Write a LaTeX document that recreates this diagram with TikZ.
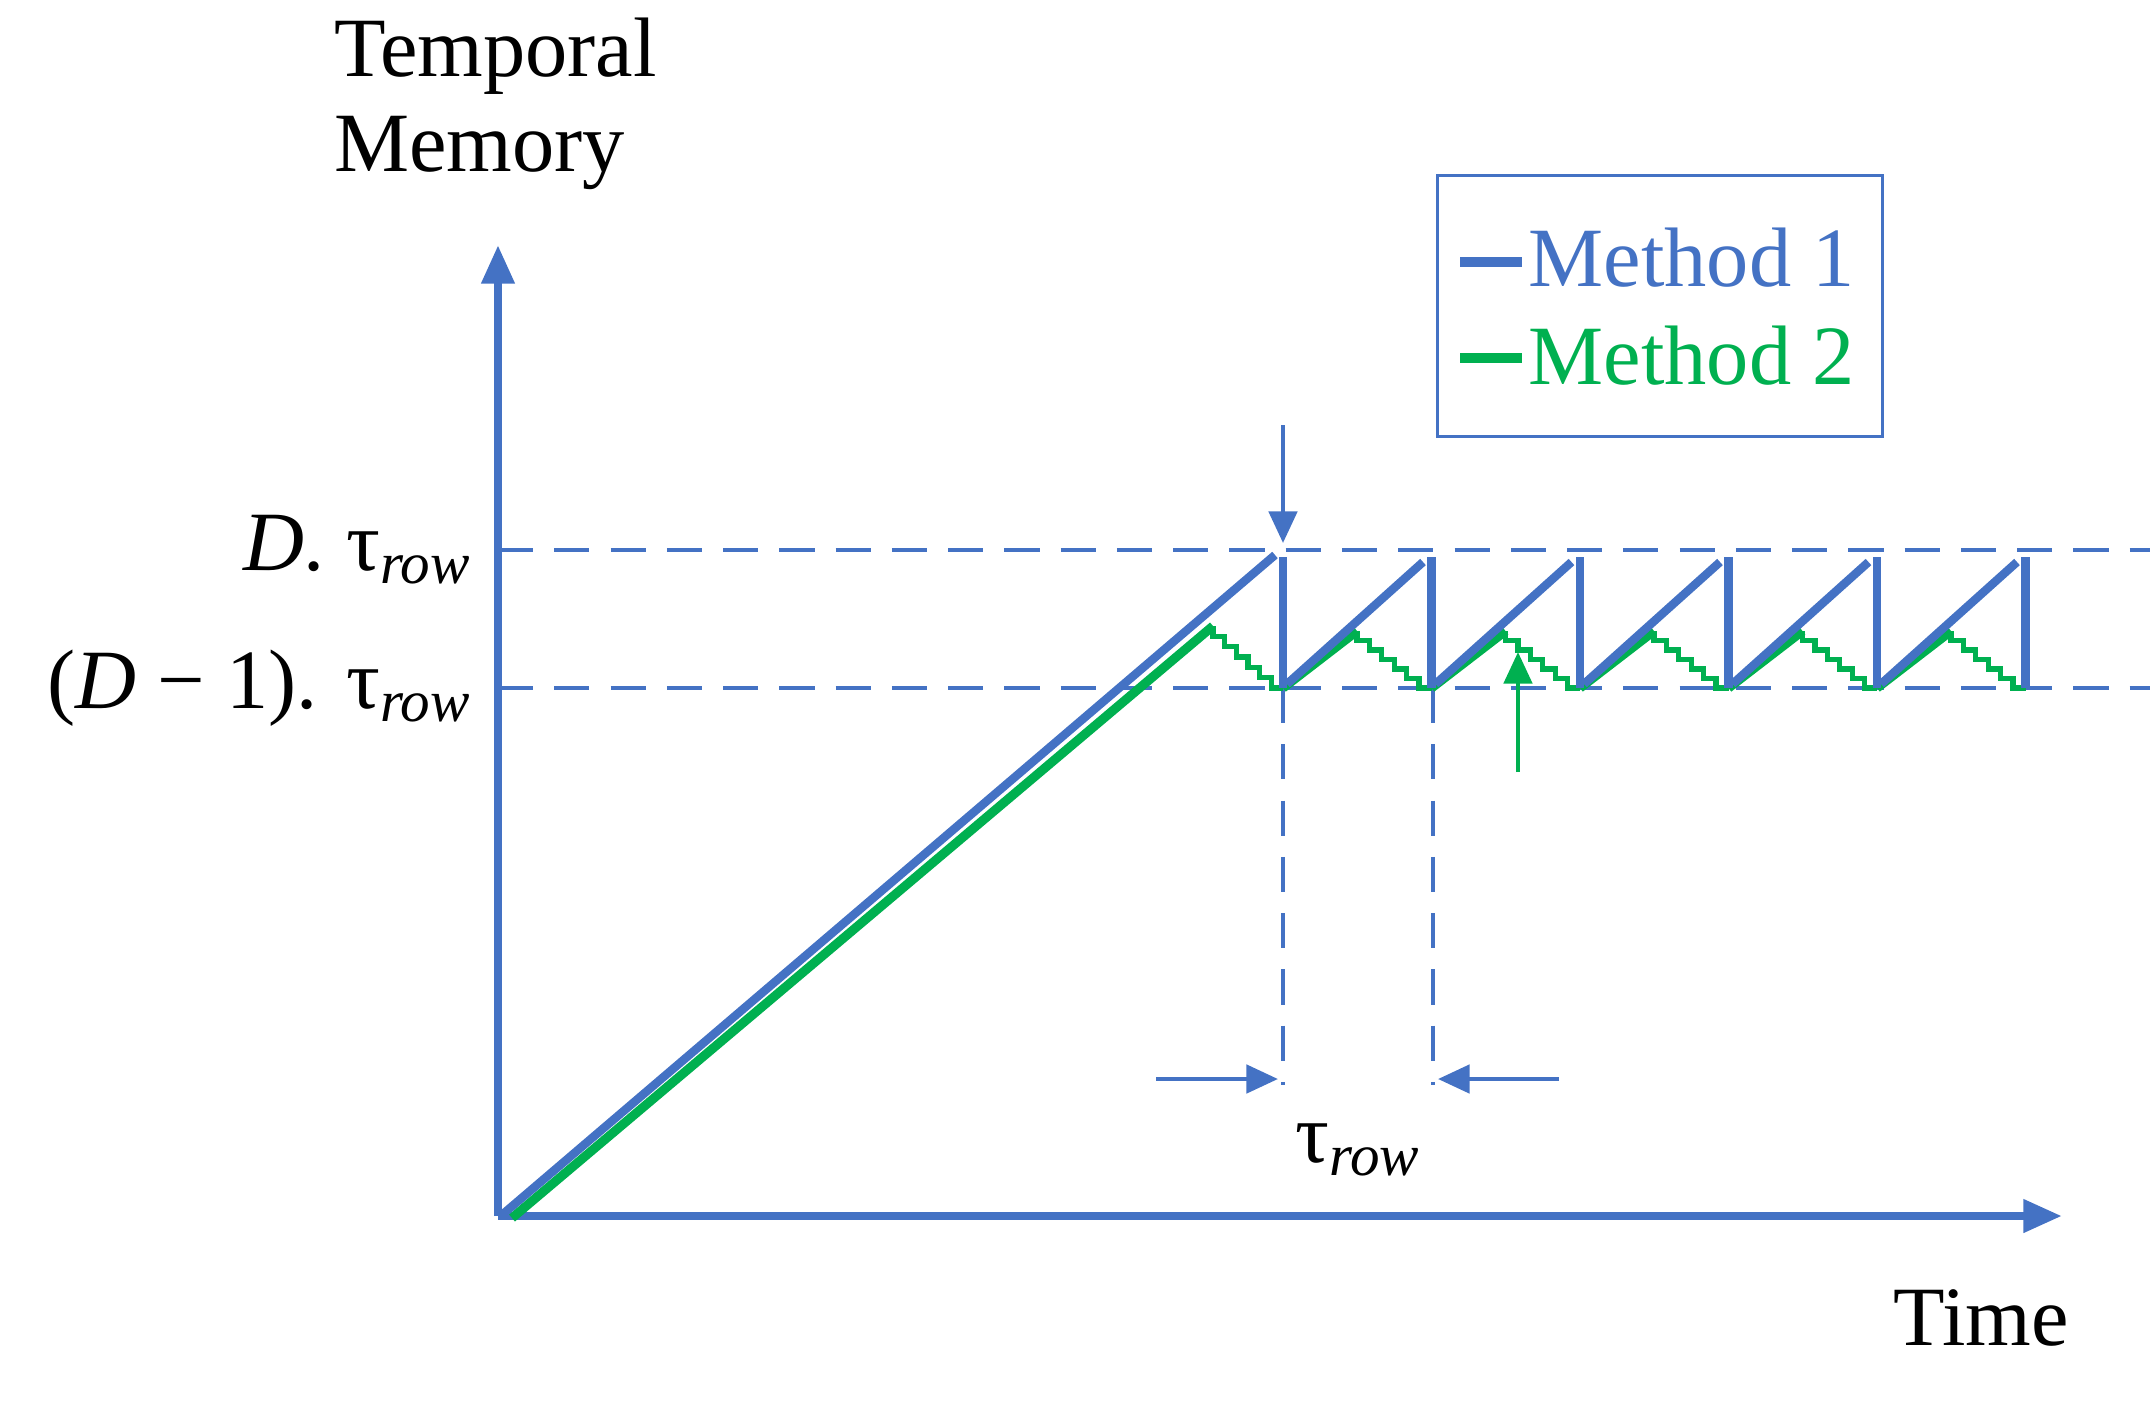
\documentclass[tikz,border=0pt]{standalone}
\usepackage{fontspec}
\setmainfont{Liberation Serif}
\usetikzlibrary{arrows.meta}
\definecolor{mblue}{HTML}{4472C4}
\definecolor{mgreen}{HTML}{00B050}
\newcommand{\stairs}[4]{%
  \pgfmathsetmacro{\sdx}{((#3)-(#1))/6}\pgfmathsetmacro{\sdy}{((#4)-(#2))/6}%
  \draw[greenstep] (#1,#2) foreach \i in {1,...,6}{ -- ++(0,\sdy) -- ++(\sdx,0)};}
\begin{document}
\begin{tikzpicture}[x=0.01cm,y=-0.01cm,
  bluel/.style={mblue,line width=2.4pt},
  greenl/.style={mgreen,line width=2.6pt},
  greenstep/.style={mgreen,line width=1.5pt},
  guide/.style={mblue,line width=1pt,dash pattern=on 10pt off 6pt},
  arr/.style={mblue,line width=1.3pt,-{Triangle[length=9pt,width=8pt]}},
  lbl/.style={font=\fontsize{24}{27}\selectfont}]
\useasboundingbox (0,0) rectangle (2150,1417);
% dashed guides
\draw[guide] (498,550) -- (2150,550);
\draw[guide] (498,688) -- (2150,688);
\draw[guide] (1283,688) -- (1283,1085);
\draw[guide] (1433,688) -- (1433,1085);
% axes
\draw[mblue,line width=2.4pt,-{Triangle[length=11pt,width=9pt]}] (498,1216) -- (498,245);
\draw[mblue,line width=2.4pt,-{Triangle[length=11pt,width=9pt]}] (498,1216) -- (2062,1216);
% green
\draw[greenl] (512,1218) -- (1213,626);
\stairs{1213}{626}{1283}{688}
\foreach \k in {0,...,4}{
  \pgfmathsetmacro{\xk}{1283+148.5*\k}
  \pgfmathsetmacro{\xp}{\xk+74}
  \pgfmathsetmacro{\xe}{\xk+148.5}
  \draw[greenl] (\xk,688) -- (\xp,631);
  \stairs{\xp}{631}{\xe}{688}
}
% blue
\draw[bluel] (503,1214) -- (1275,555);
\foreach \k in {0,...,5}{
  \pgfmathsetmacro{\xk}{1283+148.5*\k}
  \draw[bluel] (\xk,557) -- (\xk,688);
}
\foreach \k in {0,...,4}{
  \pgfmathsetmacro{\xk}{1283+148.5*\k}
  \draw[bluel] (\xk+4,684) -- (\xk+140,562);
}
% arrows
\coordinate (da) at (1283,425); \coordinate (db) at (1283,543);
\draw[arr] (da) -- (db);
\coordinate (ga) at (1518,772); \coordinate (gb) at (1518,652);
\draw[arr,mgreen] (ga) -- (gb);
\coordinate (l1) at (1156,1079); \coordinate (l2) at (1278,1079);
\draw[arr] (l1) -- (l2);
\coordinate (r1) at (1559,1079); \coordinate (r2) at (1438,1079);
\draw[arr] (r1) -- (r2);
% labels
\node[lbl,anchor=west,align=left] (tm) at (322,104) {Temporal\\Memory};
\node[lbl,anchor=base] (time) at (1981,1345) {Time};
\node[lbl,anchor=east] (d) at (484,550) {\textit{D}. τ\textsubscript{\textit{row}}};
\node[lbl,anchor=east] (d1) at (484,688) {(\textit{D} − 1). τ\textsubscript{\textit{row}}};
\node[lbl] (tr) at (1358,1150) {τ\textsubscript{\textit{row}}};
% legend
\node[draw=mblue,line width=0.8pt,minimum width=4.45cm,minimum height=2.61cm,anchor=north west] (leg) at (1436,174) {};
\draw[mblue,line width=2.6pt] (1460,262) -- (1522,262);
\node[lbl,mblue,anchor=west,inner sep=0] (m1) at (1528,258) {Method 1};
\draw[mgreen,line width=2.6pt] (1460,358) -- (1522,358);
\node[lbl,mgreen,anchor=west,inner sep=0] (m2) at (1528,356) {Method 2};
\end{tikzpicture}
\end{document}
